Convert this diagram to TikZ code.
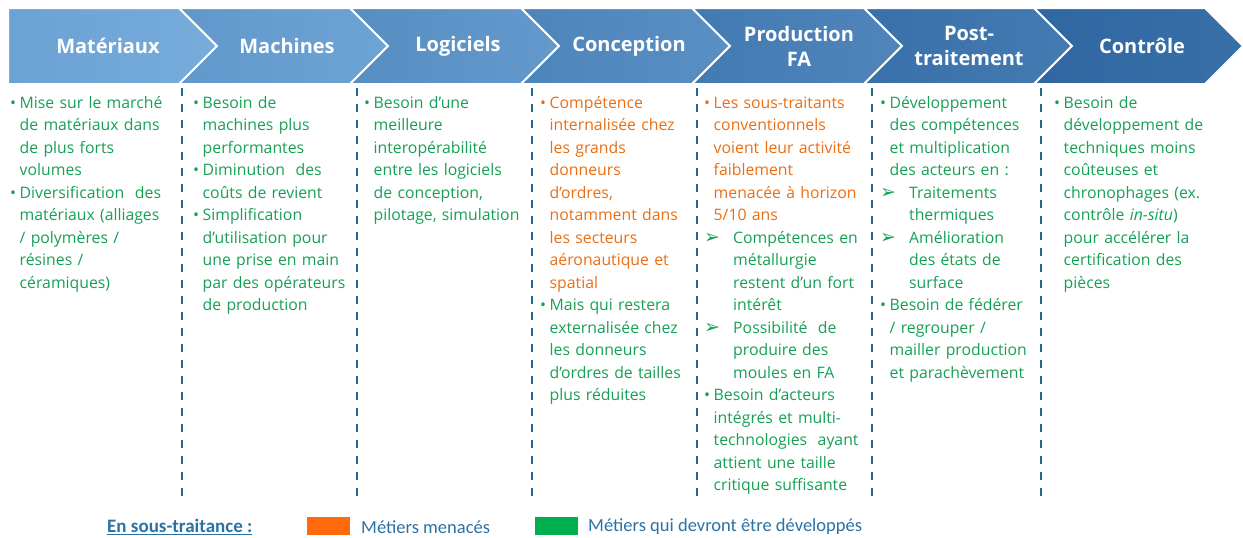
\documentclass[tikz,border=0pt]{standalone}
\usepackage{fontspec}
\setmainfont{Open Sans}
\newfontfamily\legfont{Carlito}
\newfontfamily\symfont{DejaVu Sans}
\definecolor{hdA}{HTML}{6EA7DA}
\definecolor{hdB}{HTML}{3069A5}
\definecolor{gtxt}{HTML}{16A055}
\definecolor{otxt}{HTML}{EA6E14}
\definecolor{obox}{HTML}{FF6A0D}
\definecolor{gbox}{HTML}{00B050}
\definecolor{dashc}{HTML}{1F6A92}
\definecolor{legc}{HTML}{2A72A4}
\newcommand\nl{\hfil\break}
\newcommand\bu{\par\hangindent=9.5pt\hangafter=1\noindent\rule{0pt}{16pt}\makebox[9.5pt][l]{\textbullet}}
\newcommand\ar{\par\hangindent=29pt\hangafter=1\noindent\rule{0pt}{16pt}\makebox[29pt][l]{\symfont\bfseries\fontsize{19}{15}\selectfont ➢}}
\tikzset{
  chev/.style={draw=white, line width=2pt, line join=miter},
  hdr/.style={text=white, font=\bfseries\fontsize{20}{25}\selectfont, align=center, inner sep=0pt},
  coltext/.style={anchor=north west, inner sep=0pt, text width=200pt, align=left, text=gtxt,
    font=\fontsize{15.8}{22.5}\selectfont},
  sepline/.style={draw=dashc, line width=2.6pt, dash pattern=on 8pt off 8pt},
  legtext/.style={anchor=west, inner sep=0pt, text=legc, font=\legfont\fontsize{18.5}{20}\selectfont},
  legbox/.style={minimum width=43pt, minimum height=18pt, inner sep=0pt}
}
\begin{document}
\begin{tikzpicture}[x=1pt,y=-1pt]
\useasboundingbox (0,0) rectangle (1243,538);
% header chevrons
\path[chev, left color=hdA!97!black, right color=hdA!94!white]
  (8,8) -- (179,8) -- (217,46) -- (179,84) -- (8,84) -- cycle;
\path[chev, left color=hdA!84!hdB!97!black, right color=hdA!84!hdB!94!white]
  (179,8) -- (350,8) -- (388,46) -- (350,84) -- (179,84) -- (217,46) -- cycle;
\path[chev, left color=hdA!67!hdB!97!black, right color=hdA!67!hdB!94!white]
  (350,8) -- (521,8) -- (559,46) -- (521,84) -- (350,84) -- (388,46) -- cycle;
\path[chev, left color=hdA!50!hdB!97!black, right color=hdA!50!hdB!94!white]
  (521,8) -- (692,8) -- (730,46) -- (692,84) -- (521,84) -- (559,46) -- cycle;
\path[chev, left color=hdA!33!hdB!97!black, right color=hdA!33!hdB!94!white]
  (692,8) -- (864,8) -- (902,46) -- (864,84) -- (692,84) -- (730,46) -- cycle;
\path[chev, left color=hdA!17!hdB!97!black, right color=hdA!17!hdB!95!white]
  (864,8) -- (1034,8) -- (1072,46) -- (1034,84) -- (864,84) -- (902,46) -- cycle;
\path[chev, left color=hdB!98!black, right color=hdB!96!white]
  (1034,8) -- (1205,8) -- (1243,46) -- (1205,84) -- (1034,84) -- (1072,46) -- cycle;
% header labels
\node[hdr] (h1) at (108,46) {Matériaux};
\node[hdr] (h2) at (287,46) {Machines};
\node[hdr] (h3) at (458,46) {Logiciels};
\node[hdr] (h4) at (629,46) {Conception};
\node[hdr] (h5) at (799,46) {Production\\FA};
\node[hdr] (h6) at (969,46) {Post-\\traitement};
\node[hdr] (h7) at (1142,46) {Contrôle};
% dashed separators
\foreach \x in {182,357,532,697,872,1041}
  \draw[sepline] (\x,88) -- (\x,497);
% column texts
\node[coltext] (c1) at (10,85.5) {%
\bu Mise sur le marché\nl de matériaux dans\nl de plus forts\nl volumes
\bu Diversification\ \ des\nl matériaux (alliages\nl / polymères /\nl résines /\nl céramiques)\par};
\node[coltext] (c2) at (193,85.5) {%
\bu Besoin de\nl machines plus\nl performantes
\bu Diminution\ \ des\nl coûts de revient
\bu Simplification\nl d’utilisation pour\nl une prise en main\nl par des opérateurs\nl de production\par};
\node[coltext] (c3) at (364,85.5) {%
\bu Besoin d’une\nl meilleure\nl interopérabilité\nl entre les logiciels\nl de conception,\nl pilotage,\ simulation\par};
\node[coltext] (c4) at (540,85.5) {%
\color{otxt}\bu Compétence\nl internalisée\ chez\nl les grands\nl donneurs\nl d’ordres,\nl notamment\ dans\nl les secteurs\nl aéronautique\ et\nl spatial
\color{gtxt}\bu Mais qui restera\nl externalisée\ chez\nl les donneurs\nl d’ordres de tailles\nl plus réduites\par};
\node[coltext] (c5) at (704,85.5) {%
\color{otxt}\bu Les sous-traitants\nl conventionnels\nl voient leur activité\nl faiblement\nl menacée\ à horizon\nl 5/10 ans
\color{gtxt}\ar Compétences en\nl métallurgie\nl restent d’un fort\nl intérêt
\ar Possibilité\ \ de\nl produire des\nl moules en FA
\bu Besoin d’acteurs\nl intégrés et multi-\nl technologies\ \ ayant\nl attient une taille\nl critique suffisante\par};
\node[coltext] (c6) at (880,85.5) {%
\bu Développement\nl des compétences\nl et multiplication\nl des acteurs en :
\ar Traitements\nl thermiques
\ar Amélioration\nl des états de\nl surface
\bu Besoin de fédérer\nl / regrouper /\nl mailler production\nl et parachèvement\par};
\node[coltext] (c7) at (1054,85.5) {%
\bu Besoin de\nl développement\ de\nl techniques moins\nl coûteuses et\nl chronophages (ex.\nl contrôle \textit{in-situ})\nl pour accélérer la\nl certification\ des\nl pièces\par};
% legend
\node[legtext, font=\legfont\bfseries\fontsize{19}{20}\selectfont] (lg) at (107,527) {\underline{En sous-traitance :}};
\node[legbox, fill=obox] (bo) at (328.5,526) {};
\node[legtext] (lo) at (361,527) {Métiers menacés};
\node[legbox, fill=gbox] (bg) at (556.5,526) {};
\node[legtext] (lv) at (588,527) {Métiers qui devront être développés};
\end{tikzpicture}
\end{document}
